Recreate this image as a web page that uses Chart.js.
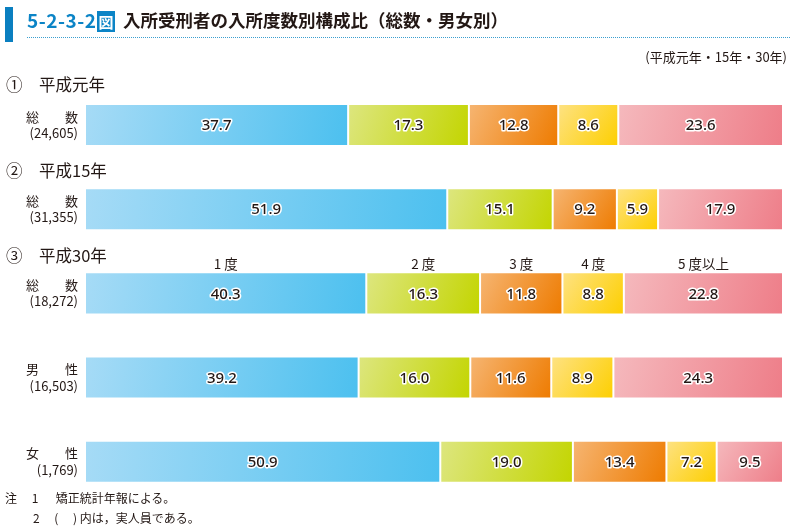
<!DOCTYPE html>
<html>
<head>
<meta charset="utf-8">
<script src="https://cdn.jsdelivr.net/npm/chart.js@4"></script>
<style>
  body { margin: 0; background: #fff; font-family: "Noto Sans CJK JP", "Noto Sans", sans-serif; color: #231815; }
  #wrap { position: relative; width: 796px; height: 527px; overflow: hidden; }
  canvas { position: absolute; left: 0; top: 0; }
  .t { position: absolute; white-space: nowrap; }
  #bar { position: absolute; left: 5px; top: 7px; width: 8px; height: 35px; background: #0a7fc0; }
  #num { left: 27px; top: 6px; font-size: 19px; font-weight: bold; color: #0b84c6; letter-spacing: 0.5px; }
  #num span { background: #0b84c6; color: #fff; font-size: 15px; padding: 0 1px; margin-left: 1px; }
  #title { left: 123px; top: 7px; font-size: 17.5px; font-weight: bold; }
  #dots { position: absolute; left: 27px; top: 37px; width: 763px; border-top: 1px dotted #3a9fd0; }
  #period { right: 9px; top: 47px; font-size: 13px; }
  .sec { font-size: 16.5px; left: 6px; }
  .note { font-size: 12px; }
</style>
</head>
<body>
<div id="wrap">
  <canvas id="myChart" width="796" height="527"></canvas>
  <div id="bar"></div>
  <div class="t" id="num">5-2-3-2<span>図</span></div>
  <div class="t" id="title">入所受刑者の入所度数別構成比（総数・男女別）</div>
  <div id="dots"></div>
  <div class="t" id="period">(平成元年・15年・30年)</div>
  <div class="t sec" style="top:72px">①　平成元年</div>
  <div class="t sec" style="top:158px">②　平成15年</div>
  <div class="t sec" style="top:243px">③　平成30年</div>
  <div class="t note" style="left:5px;top:489px">注　 1 　 矯正統計年報による。</div>
  <div class="t note" style="left:33px;top:509px">2 　(　 ) 内は，実人員である。</div>
</div>
<script>
var rowLabels = [
    ['総　　数', '(24,605)'],
    ['総　　数', '(31,355)'],
    ['総　　数', '(18,272)'],
    ['男　　性', '(16,503)'],
    ['女　　性', '(1,769)']
];
var degreeLabels = ['1 度', '2 度', '3 度', '4 度', '5 度以上'];
var once = [37.7, 51.9, 40.3, 39.2, 50.9];
var twice = [17.3, 15.1, 16.3, 16.0, 19.0];
var three = [12.8, 9.2, 11.8, 11.6, 13.4];
var four = [8.6, 5.9, 8.8, 8.9, 7.2];
var fivePlus = [23.6, 17.9, 22.8, 24.3, 9.5];

var colors = [
    ['#a6dbf6', '#4cc0ef'],
    ['#dde67f', '#c3d500'],
    ['#f6b572', '#ee7b00'],
    ['#fee283', '#fdcf00'],
    ['#f5b9bd', '#ee7d88']
];

function grad(c, i) {
    var chart = c.chart;
    if (!chart.chartArea || c.type !== 'data') return colors[i][1];
    var xs = chart.scales.x, ys = chart.scales.y;
    var start = 0;
    for (var d = 0; d < c.datasetIndex; d++) start += chart.data.datasets[d].data[c.dataIndex];
    var x0 = xs.getPixelForValue(start), x1 = xs.getPixelForValue(start + c.raw);
    var yc = ys.getPixelForValue(c.dataIndex);
    var g = chart.ctx.createLinearGradient(x0, yc - 21, x1, yc + 21);
    g.addColorStop(0, colors[i][0]);
    g.addColorStop(1, colors[i][1]);
    return g;
}

var series = [once, twice, three, four, fivePlus];
var datasets = series.map(function (arr, i) {
    return {
        label: degreeLabels[i],
        data: arr,
        backgroundColor: function (c) { return grad(c, i); },
        borderColor: '#ffffff',
        borderWidth: 1,
        borderSkipped: false,
        barPercentage: 1,
        categoryPercentage: 0.5
    };
});

// value labels in each segment, plus the degree headers over the 3rd row
var labelPlugin = {
    id: 'segLabels',
    afterDatasetsDraw: function (chart) {
        var ctx = chart.ctx;
        ctx.save();
        ctx.textAlign = 'center';
        ctx.textBaseline = 'middle';
        chart.data.datasets.forEach(function (ds, i) {
            chart.getDatasetMeta(i).data.forEach(function (bar, j) {
                var cx = (bar.x + bar.base) / 2;
                ctx.font = '500 15px "Noto Sans", sans-serif';
                ctx.lineWidth = 3;
                ctx.lineJoin = 'round';
                ctx.strokeStyle = '#ffffff';
                var txt = ds.data[j].toFixed(1);
                ctx.strokeText(txt, cx, bar.y + 1);
                ctx.fillStyle = '#231815';
                ctx.fillText(txt, cx, bar.y + 1);
                if (j === 2) {
                    ctx.font = '13.5px "Noto Sans CJK JP", sans-serif';
                    ctx.fillText(ds.label, cx, bar.y - 30);
                }
            });
        });
        ctx.restore();
    }
};

var myChart = new Chart(document.getElementById('myChart').getContext('2d'), {
    type: 'bar',
    data: { labels: rowLabels, datasets: datasets },
    options: {
        indexAxis: 'y',
        responsive: false,
        animation: false,
        layout: { padding: { left: 0, right: 13, top: 83, bottom: 22 } },
        plugins: { legend: { display: false }, tooltip: { enabled: false } },
        scales: {
            x: { stacked: true, min: 0, max: 100, display: false },
            y: {
                stacked: true,
                grid: { display: false, drawTicks: false },
                border: { display: false },
                afterFit: function (s) { s.width = 85; },
                ticks: {
                    padding: 7,
                    color: '#231815',
                    font: { family: '"Noto Sans CJK JP", sans-serif', size: 13, lineHeight: 1.25 }
                }
            }
        }
    },
    plugins: [labelPlugin]
});
</script>
</body>
</html>
